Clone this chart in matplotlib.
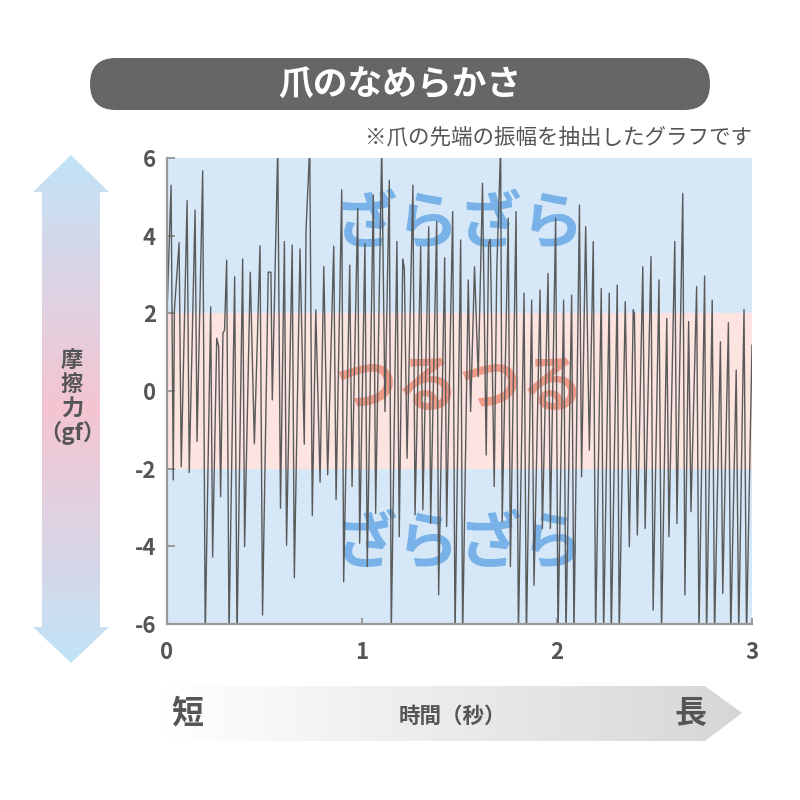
import numpy as np
import matplotlib

matplotlib.use("Agg")
import matplotlib.pyplot as plt
from matplotlib.patches import FancyBboxPatch, Polygon

plt.rcParams["font.family"] = ["Noto Sans CJK JP", "DejaVu Sans"]

TITLE = "爪のなめらかさ"
NOTE = "※爪の先端の振幅を抽出したグラフです"
Y_LABEL = "摩\n擦\n力\n（gf）"
X_LABEL = "時間（秒）"
X_SHORT = "短"
X_LONG = "長"
ROUGH = "ざらざら"
SMOOTH = "つるつる"

x_ticks = [0, 1, 2, 3]
y_ticks = [6, 4, 2, 0, -2, -4, -6]

# time (s) and friction (gf)
time_s = [
    0.000, 0.021, 0.032, 0.038, 0.062, 0.073, 0.103, 0.114, 0.144, 0.154,
    0.183, 0.196, 0.224, 0.234, 0.255, 0.265, 0.275, 0.287, 0.295, 0.306,
    0.318, 0.347, 0.359, 0.388, 0.398, 0.427, 0.448, 0.477, 0.490, 0.519,
    0.533, 0.540, 0.568, 0.582, 0.602, 0.613, 0.642, 0.653, 0.682, 0.704,
    0.713, 0.732, 0.745, 0.763, 0.785, 0.804, 0.824, 0.855, 0.867, 0.896,
    0.906, 0.937, 0.949, 0.978, 0.988, 1.015, 1.027, 1.058, 1.070, 1.101,
    1.118, 1.140, 1.150, 1.179, 1.191, 1.209, 1.217, 1.231, 1.261, 1.272,
    1.301, 1.312, 1.342, 1.352, 1.383, 1.393, 1.424, 1.434, 1.465, 1.477,
    1.506, 1.516, 1.545, 1.557, 1.577, 1.596, 1.618, 1.637, 1.649, 1.658,
    1.678, 1.691, 1.711, 1.719, 1.750, 1.761, 1.790, 1.802, 1.831, 1.843,
    1.870, 1.882, 1.913, 1.925, 1.954, 1.966, 1.993, 2.005, 2.034, 2.046,
    2.075, 2.087, 2.115, 2.126, 2.147, 2.166, 2.186, 2.198, 2.227, 2.239,
    2.268, 2.278, 2.309, 2.319, 2.350, 2.371, 2.391, 2.397, 2.412, 2.440,
    2.452, 2.482, 2.493, 2.523, 2.536, 2.563, 2.574, 2.604, 2.615, 2.645,
    2.656, 2.675, 2.687, 2.716, 2.728, 2.757, 2.767, 2.796, 2.808, 2.838,
    2.850, 2.879, 2.891, 2.919, 2.932, 2.959, 2.972, 3.000,
]
friction_gf = [
    2.00, 5.30, -2.29, 2.09, 3.82, -1.95, 4.90, -2.10, 4.66, -1.30,
    5.67, -6.30, 2.17, -4.28, 1.36, 1.14, -2.72, 1.49, 1.57, 3.37,
    -6.30, 2.94, -6.40, 3.40, -4.01, 3.06, -1.36, 3.74, -5.77, 3.06,
    3.06, -0.23, 6.30, -3.02, 3.85, -3.97, 3.76, -4.81, 3.66, -1.37,
    4.15, 6.30, -3.21, 2.09, -2.35, 3.20, -2.16, 3.73, -2.79, 5.18,
    -4.91, 3.24, -2.46, 4.70, -3.92, 3.80, -4.52, 5.05, -3.15, 6.30,
    -0.53, 5.43, -6.30, 3.85, -3.75, 3.40, 3.16, -1.73, 5.30, -3.19,
    3.72, -3.06, 4.23, -3.41, 4.36, -5.25, 3.43, -3.49, 4.62, -6.30,
    3.89, -6.40, 2.86, -0.53, 3.20, 0.37, 5.35, -1.65, 3.80, 3.91,
    -2.46, 3.12, 6.30, -3.36, 4.45, -4.52, 4.62, -6.30, 2.52, -6.40,
    2.34, -5.00, 2.60, -3.54, 3.03, -3.54, 4.45, -6.30, 2.34, -6.30,
    2.47, -6.30, 4.79, -2.21, 4.23, -1.52, 3.85, -6.30, 2.64, -6.30,
    2.52, -6.40, 2.73, -6.30, 2.30, -4.01, 2.09, 2.00, -3.71, 3.20,
    -3.54, 3.46, -5.64, 2.86, -6.30, 1.87, -3.75, 3.85, -3.41, 5.09,
    -5.25, 1.79, -3.11, 2.69, -6.30, 2.96, -6.30, 2.34, -6.30, 1.27,
    -5.21, 1.76, -6.30, 0.54, -6.30, 2.10, -6.30, 1.18,
]

TEXT_GRAY = "#555555"
SPINE_GRAY = "#9a9a9a"
BAND_BLUE = "#d6e8f8"
BAND_PINK = "#fde4e1"
ROUGH_COLOR = "#78b2e8"
SMOOTH_COLOR = "#ef9a86"

fig = plt.figure(figsize=(8, 8), dpi=100)

# overlay in pixel coordinates for banner and arrows
deco = fig.add_axes([0, 0, 1, 1])
deco.set_xlim(0, 800)
deco.set_ylim(800, 0)
deco.axis("off")

banner = FancyBboxPatch((90, 58), 620, 52, boxstyle="round,pad=0,rounding_size=26",
                        facecolor="#666666", edgecolor="none")
deco.add_patch(banner)
deco.text(400, 85, TITLE, color="white", fontsize=25, fontweight="bold",
          ha="center", va="center")
deco.text(752, 137, NOTE, color=TEXT_GRAY, fontsize=15.5, ha="right", va="center")

# vertical double arrow with blue-pink gradient
v_arrow = Polygon([(71, 155), (109, 192), (100, 192), (100, 627), (109, 627),
                   (71, 663), (33, 627), (42, 627), (42, 192), (33, 192)],
                  closed=True, facecolor="none", edgecolor="none")
deco.add_patch(v_arrow)
t = np.abs(np.linspace(-1, 1, 256))[:, None]
blue = np.array([0.76, 0.89, 0.97])
pink = np.array([0.96, 0.77, 0.82])
grad_v = (pink + (blue - pink) * t)[:, None, :].reshape(256, 1, 3)
img = deco.imshow(grad_v, extent=[33, 109, 663, 155], aspect="auto", zorder=1)
img.set_clip_path(v_arrow)
deco.text(72, 397, Y_LABEL, color=TEXT_GRAY, fontsize=16, fontweight="bold",
          ha="center", va="center", linespacing=1.05, zorder=2)

# horizontal arrow with white-gray gradient
h_arrow = Polygon([(165, 686), (705, 686), (742, 713), (705, 741), (165, 741)],
                  closed=True, facecolor="none", edgecolor="none")
deco.add_patch(h_arrow)
s = np.linspace(0, 1, 256)
grad_h = (1.0 - 0.16 * s)[None, :, None] * np.ones((1, 1, 3))
img2 = deco.imshow(grad_h, extent=[165, 742, 741, 686], aspect="auto", zorder=1)
img2.set_clip_path(h_arrow)
deco.text(187, 713, X_SHORT, color=TEXT_GRAY, fontsize=23, fontweight="bold",
          ha="center", va="center", zorder=2)
deco.text(690, 713, X_LONG, color=TEXT_GRAY, fontsize=23, fontweight="bold",
          ha="center", va="center", zorder=2)
deco.text(452, 716, X_LABEL, color=TEXT_GRAY, fontsize=15.5, fontweight="bold",
          ha="center", va="center", zorder=2)

# main chart
ax = fig.add_axes([167 / 800, 1 - 624 / 800, 585 / 800, 466 / 800])
ax.set_xlim(0, 3)
ax.set_ylim(-6, 6)
ax.axhspan(2, 6, color=BAND_BLUE, lw=0, zorder=0)
ax.axhspan(-2, 2, color=BAND_PINK, lw=0, zorder=0)
ax.axhspan(-6, -2, color=BAND_BLUE, lw=0, zorder=0)

for label, yv, col in [(ROUGH, 4.3, ROUGH_COLOR), (SMOOTH, 0.1, SMOOTH_COLOR),
                       (ROUGH, -3.95, ROUGH_COLOR)]:
    ax.text(1.5, yv, label, color=col, fontsize=45, fontweight="bold",
            ha="center", va="center", zorder=1)

ax.plot(time_s, friction_gf, color="#5a5a5a", linewidth=1.0, zorder=2)

for side in ["top", "right"]:
    ax.spines[side].set_visible(False)
for side in ["left", "bottom"]:
    ax.spines[side].set_color(SPINE_GRAY)
    ax.spines[side].set_linewidth(1.6)
    ax.spines[side].set_zorder(3)

ax.set_xticks(x_ticks, [str(v) for v in x_ticks])
ax.set_yticks(y_ticks, [str(v) for v in y_ticks])
ax.tick_params(axis="y", direction="in", length=6, width=1.4, color=SPINE_GRAY,
               labelsize=16, labelcolor=TEXT_GRAY, pad=8)
ax.tick_params(axis="x", direction="in", length=4, width=1.4, color=SPINE_GRAY,
               labelsize=16, labelcolor=TEXT_GRAY, pad=12)
for lab in ax.get_xticklabels() + ax.get_yticklabels():
    lab.set_fontweight("bold")

fig.savefig("out.png", dpi=100)
plt.close(fig)
